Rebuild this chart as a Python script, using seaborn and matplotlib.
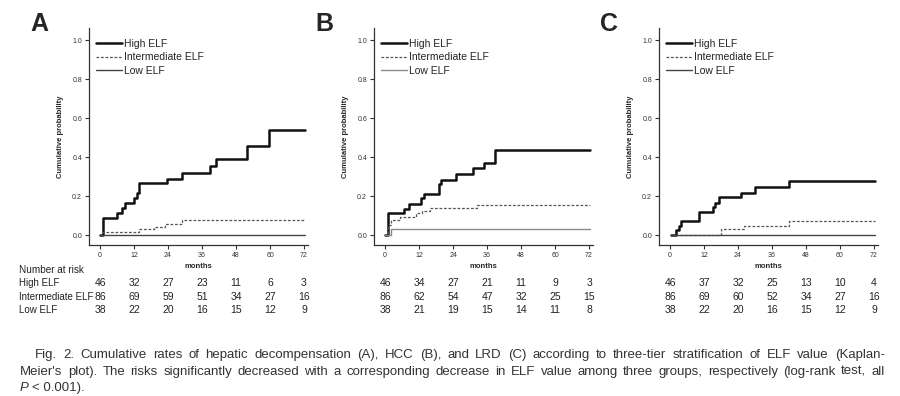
import numpy as np
import pandas as pd
import seaborn as sns
import matplotlib.pyplot as plt

sns.set_style("white")
plt.rcParams['font.family'] = ['Liberation Sans', 'DejaVu Sans']

month_ticks = [0, 12, 24, 36, 48, 60, 72]
groups = ["High ELF", "Intermediate ELF", "Low ELF"]

# A: hepatic decompensation
a_high_t = [0, 0.9, 5.9, 7.6, 8.8, 12.0, 12.9, 13.9, 23.5, 28.8, 38.8, 40.9, 51.8, 59.8, 72.4]
a_high_p = [0, 0.089, 0.111, 0.137, 0.162, 0.188, 0.217, 0.268, 0.29, 0.32, 0.356, 0.388, 0.458, 0.538, 0.538]
a_mid_t = [0, 0.6, 13.9, 19.0, 22.9, 28.8, 72.4]
a_mid_p = [0, 0.014, 0.029, 0.039, 0.056, 0.075, 0.075]
a_low_t = [0, 72.4]
a_low_p = [0, 0]

# B: HCC
b_high_t = [0, 1.1, 6.7, 8.6, 12.7, 13.7, 18.9, 19.8, 25.0, 30.9, 34.9, 38.8, 72.2]
b_high_p = [0, 0.113, 0.133, 0.157, 0.188, 0.21, 0.263, 0.283, 0.314, 0.343, 0.372, 0.435, 0.435]
b_mid_t = [0, 1.2, 2.1, 5.3, 10.9, 12.9, 15.9, 32.5, 72.2]
b_mid_p = [0, 0.053, 0.077, 0.092, 0.113, 0.125, 0.138, 0.154, 0.154]
b_low_t = [0, 2.0, 72.2]
b_low_p = [0, 0.031, 0.031]

# C: LRD
c_high_t = [0.4, 2.1, 3.1, 4.0, 10.1, 15.1, 16.0, 17.2, 25.2, 30.1, 42.1, 72.4]
c_high_p = [0, 0.026, 0.046, 0.07, 0.118, 0.145, 0.167, 0.193, 0.218, 0.244, 0.279, 0.279]
c_mid_t = [0.4, 18.1, 26.1, 42.1, 72.4]
c_mid_p = [0, 0.029, 0.046, 0.072, 0.072]
c_low_t = [0.4, 72.4]
c_low_p = [0, 0]

# number at risk
a_risk_high = [46, 32, 27, 23, 11, 6, 3]
a_risk_mid = [86, 69, 59, 51, 34, 27, 16]
a_risk_low = [38, 22, 20, 16, 15, 12, 9]
b_risk_high = [46, 34, 27, 21, 11, 9, 3]
b_risk_mid = [86, 62, 54, 47, 32, 25, 15]
b_risk_low = [38, 21, 19, 15, 14, 11, 8]
c_risk_high = [46, 37, 32, 25, 13, 10, 4]
c_risk_mid = [86, 69, 60, 52, 34, 27, 16]
c_risk_low = [38, 22, 20, 16, 15, 12, 9]

fig = plt.figure(figsize=(9, 3.96), dpi=100)

panels = [
    ("A", 0.0989, [(a_high_t, a_high_p), (a_mid_t, a_mid_p), (a_low_t, a_low_p)],
     [a_risk_high, a_risk_mid, a_risk_low], '#444444'),
    ("B", 0.4156, [(b_high_t, b_high_p), (b_mid_t, b_mid_p), (b_low_t, b_low_p)],
     [b_risk_high, b_risk_mid, b_risk_low], '#8a8a8a'),
    ("C", 0.7322, [(c_high_t, c_high_p), (c_mid_t, c_mid_p), (c_low_t, c_low_p)],
     [c_risk_high, c_risk_mid, c_risk_low], '#444444'),
]

for letter, left, curves, risks, low_col in panels:
    ax = fig.add_axes([left, 0.3813, 0.2433, 0.548])
    styles = [
        dict(color='#111111', lw=1.8, ls='-'),
        dict(color='#555555', lw=0.9, ls=(0, (2.2, 1.4))),
        dict(color=low_col, lw=1.0, ls='-'),
    ]
    for (t, p), name, st in zip(curves, groups, styles):
        sns.lineplot(x=t, y=p, ax=ax, drawstyle='steps-post', estimator=None,
                     label=name, color=st['color'], linewidth=st['lw'],
                     linestyle=st['ls'])

    ax.set_xlim(-3.9, 73.4)
    ax.set_ylim(-0.051, 1.062)
    ax.set_xticks(month_ticks)
    ax.set_yticks([0, 0.2, 0.4, 0.6, 0.8, 1.0])
    ax.set_yticklabels(['0.0', '0.2', '0.4', '0.6', '0.8', '1.0'])
    ax.tick_params(axis='both', which='both', direction='out', length=3, width=0.8,
                   labelsize=5, colors='#333333', pad=2, left=True, bottom=True)
    for s in ['top', 'right']:
        ax.spines[s].set_visible(False)
    for s in ['left', 'bottom']:
        ax.spines[s].set_color('#333333')
        ax.spines[s].set_linewidth(0.9)
    ax.set_ylabel('Cumulative probability', fontsize=5.5, fontweight='bold', labelpad=6)
    ax.set_xlabel('months', fontsize=5.5, fontweight='bold', labelpad=3)

    leg = ax.legend(loc='upper left', bbox_to_anchor=(0.03, 0.95), frameon=False,
                    fontsize=7.5, handlelength=2.5, handletextpad=0.25,
                    labelspacing=0.35, borderpad=0, borderaxespad=0)
    for txt in leg.get_texts():
        txt.set_color('#222222')

    fig.text(left - 0.065, 1 - 24 / 396, letter, fontsize=18, fontweight='bold',
             va='center', ha='left')

    tr = ax.get_xaxis_transform()
    for row, vals in zip([-0.175, -0.24, -0.30], risks):
        for m, v in zip(month_ticks, vals):
            ax.text(m, row, str(v), transform=tr, ha='center', va='center',
                    fontsize=7.5, color='#222222', clip_on=False)

    if letter == "A":
        ax.text(-28.5, -0.115, 'Number at risk', transform=tr, ha='left', va='center',
                fontsize=7.2, color='#222222')
        for row, name in zip([-0.175, -0.24, -0.30], groups):
            ax.text(-28.5, row, name, transform=tr, ha='left', va='center',
                    fontsize=7.0, color='#222222')

# caption, justified between fixed margins
cap_font = ['Liberation Sans Narrow', 'Liberation Sans', 'DejaVu Sans']
cap_kw = dict(fontsize=9.5, color='#333333', family=cap_font, va='center')
line1 = ("Fig. 2. Cumulative rates of hepatic decompensation (A), HCC (B), and LRD (C) "
         "according to three-tier stratification of ELF value (Kaplan-")
line2 = ("Meier's plot). The risks significantly decreased with a corresponding decrease "
         "in ELF value among three groups, respectively (log-rank test, all")

renderer = fig.canvas.get_renderer()


def justified(y, x0, x1, text):
    words = text.split()
    items = [fig.text(x0, y, w, **cap_kw) for w in words]
    widths = [it.get_window_extent(renderer).width / fig.bbox.width for it in items]
    gap = (x1 - x0 - sum(widths)) / (len(words) - 1)
    x = x0
    for it, w in zip(items, widths):
        it.set_x(x)
        x += w + gap


justified(1 - 355 / 396, 35 / 900, 885 / 900, line1)
justified(1 - 372 / 396, 20 / 900, 885 / 900, line2)
p_txt = fig.text(20 / 900, 1 - 388 / 396, 'P', style='italic', **cap_kw)
pw = p_txt.get_window_extent(renderer).width / fig.bbox.width
fig.text(20 / 900 + pw + 0.004, 1 - 388 / 396, '< 0.001).', **cap_kw)

fig.savefig('out.png', dpi=100)
